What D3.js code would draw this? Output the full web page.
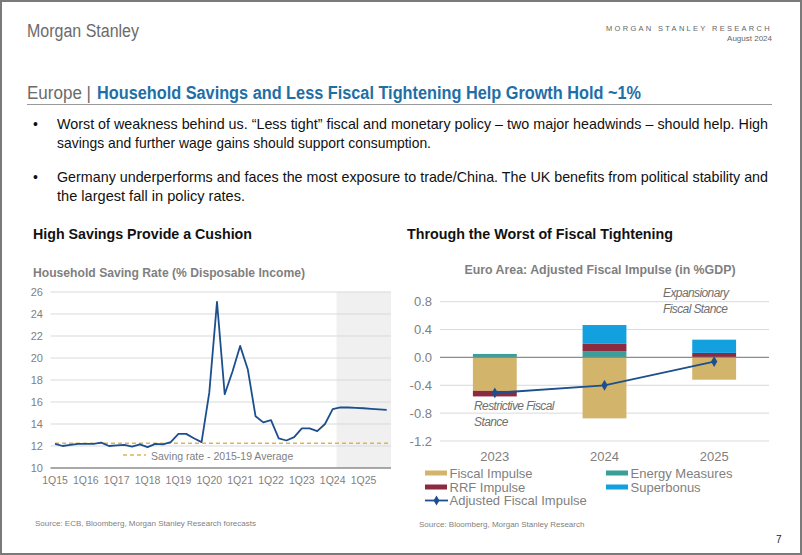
<!DOCTYPE html>
<html><head><meta charset="utf-8">
<script src="https://cdn.jsdelivr.net/npm/d3@7"></script>
<style>
html,body{margin:0;padding:0;background:#fff;}
svg{display:block;font-family:"Liberation Sans",Arial,sans-serif;}
</style></head>
<body><svg id="c" width="802" height="555"></svg>
<script>
// ---------- DATA ----------
const quarters = ["1Q15","2Q15","3Q15","4Q15","1Q16","2Q16","3Q16","4Q16","1Q17","2Q17","3Q17","4Q17",
 "1Q18","2Q18","3Q18","4Q18","1Q19","2Q19","3Q19","4Q19","1Q20","2Q20","3Q20","4Q20","1Q21","2Q21","3Q21","4Q21",
 "1Q22","2Q22","3Q22","4Q22","1Q23","2Q23","3Q23","4Q23","1Q24","2Q24","3Q24","4Q24","1Q25","2Q25","3Q25","4Q25"];
const savingRate = [12.2,12.0,12.1,12.2,12.2,12.2,12.3,12.0,12.05,12.1,11.95,12.15,
 11.9,12.2,12.15,12.35,13.1,13.1,12.7,12.35,16.85,25.1,16.7,18.75,21.1,18.95,14.7,14.15,
 14.35,12.7,12.5,12.8,13.6,13.6,13.35,14.0,15.35,15.52,15.5,15.47,15.43,15.38,15.33,15.28];
const savingAvg = 12.25;
const forecastStart = "2Q24";
const leftYTicks = [10,12,14,16,18,20,22,24,26];
const leftXTicks = ["1Q15","1Q16","1Q17","1Q18","1Q19","1Q20","1Q21","1Q22","1Q23","1Q24","1Q25"];

const years = ["2023","2024","2025"];
const fiscalImpulse = [-0.48,-0.875,-0.32];
const energyMeasures = [0.05,0.09,0.0];
const rrfImpulse = [-0.08,0.105,0.065];
const superbonus = [0.0,0.27,0.19];
const adjustedImpulse = [-0.51,-0.40,-0.06];
const rightYTicks = [-1.2,-0.8,-0.4,0.0,0.4,0.8];

const svg = d3.select("#c");
const grayTxt = "#7f7f7f";

// ---------- PAGE ----------
svg.append("rect").attr("x",1).attr("y",1).attr("width",800).attr("height",553)
  .attr("fill","none").attr("stroke","#7a7a7a").attr("stroke-width",2);
svg.append("text").attr("x",27).attr("y",37).attr("font-size",18).attr("fill","#6b6b6b")
  .attr("textLength",112).attr("lengthAdjust","spacingAndGlyphs").text("Morgan Stanley");
svg.append("text").attr("x",772).attr("y",31).attr("text-anchor","end").attr("font-size",7.5)
  .attr("fill","#666").attr("letter-spacing",2.3).text("MORGAN STANLEY RESEARCH");
svg.append("text").attr("x",772).attr("y",41).attr("text-anchor","end").attr("font-size",8)
  .attr("fill","#666").text("August 2024");

svg.append("text").attr("x",27).attr("y",99).attr("font-size",17.5).attr("fill","#6b6b6b")
  .attr("textLength",64).attr("lengthAdjust","spacingAndGlyphs").text("Europe |");
svg.append("text").attr("x",97).attr("y",99).attr("font-size",17.5).attr("fill","#1f6fa6").attr("font-weight","bold")
  .attr("textLength",544).attr("lengthAdjust","spacingAndGlyphs").text("Household Savings and Less Fiscal Tightening Help Growth Hold ~1%");
svg.append("line").attr("x1",27).attr("x2",772).attr("y1",104.5).attr("y2",104.5).attr("stroke","#9a9a9a").attr("stroke-width",1);

const bullets = [
  {y:129, t:"Worst of weakness behind us. \u201CLess tight\u201D fiscal and monetary policy \u2013 two major headwinds \u2013 should help. High", w:711},
  {y:148, t:"savings and further wage gains should support consumption.", w:374},
  {y:182, t:"Germany underperforms and faces the most exposure to trade/China. The UK benefits from political stability and", w:711},
  {y:201, t:"the largest fall in policy rates.", w:188}
];
bullets.forEach(b=>{
  svg.append("text").attr("x",57).attr("y",b.y).attr("font-size",15).attr("fill","#111")
    .attr("textLength",b.w).attr("lengthAdjust","spacingAndGlyphs").text(b.t);
});
[129,182].forEach(y=>svg.append("text").attr("x",33).attr("y",y).attr("font-size",14).attr("fill","#111").text("\u2022"));

svg.append("text").attr("x",33).attr("y",239).attr("font-size",14.5).attr("font-weight","bold").attr("fill","#111")
  .attr("textLength",219).attr("lengthAdjust","spacingAndGlyphs").text("High Savings Provide a Cushion");
svg.append("text").attr("x",407).attr("y",239).attr("font-size",14.5).attr("font-weight","bold").attr("fill","#111")
  .attr("textLength",266).attr("lengthAdjust","spacingAndGlyphs").text("Through the Worst of Fiscal Tightening");

// ---------- LEFT CHART ----------
const L = {x0:50.5, x1:391, yTop:292, yBot:468};
const xL = d3.scaleLinear().domain([0, quarters.length-1]).range([55, 386.7]);
const yL = d3.scaleLinear().domain([10,26]).range([L.yBot, L.yTop]);

svg.append("text").attr("x",33).attr("y",277).attr("font-size",12.5).attr("font-weight","bold").attr("fill",grayTxt)
  .attr("textLength",272).attr("lengthAdjust","spacingAndGlyphs").text("Household Saving Rate (% Disposable Income)");

const fi = quarters.indexOf(forecastStart);
svg.append("rect").attr("x",xL(fi-0.5)).attr("y",yL(26)).attr("width",L.x1-xL(fi-0.5)).attr("height",yL(10)-yL(26))
  .attr("fill","#f0f0f0");

const gL = svg.append("g");
gL.selectAll("line.grid").data(leftYTicks.filter(d=>d>10)).join("line")
  .attr("x1",L.x0).attr("x2",L.x1).attr("y1",d=>yL(d)).attr("y2",d=>yL(d))
  .attr("stroke","#d9d9d9").attr("stroke-width",1);
gL.selectAll("text.yt").data(leftYTicks).join("text")
  .attr("x",43).attr("y",d=>yL(d)+4).attr("text-anchor","end").attr("font-size",11).attr("fill",grayTxt).text(d=>d);
gL.append("line").attr("x1",L.x0).attr("x2",L.x1).attr("y1",L.yBot).attr("y2",L.yBot).attr("stroke","#8c8c8c").attr("stroke-width",1.3);
gL.selectAll("text.xt").data(leftXTicks).join("text")
  .attr("x",d=>xL(quarters.indexOf(d))).attr("y",484).attr("text-anchor","middle").attr("font-size",10.5).attr("fill",grayTxt).text(d=>d);

gL.append("line").attr("x1",xL(0)).attr("x2",L.x1-2).attr("y1",yL(savingAvg)).attr("y2",yL(savingAvg))
  .attr("stroke","#d9b45a").attr("stroke-width",1.4).attr("stroke-dasharray","4,3");
gL.append("path").datum(savingRate)
  .attr("d", d3.line().x((d,i)=>xL(i)).y(d=>yL(d)))
  .attr("fill","none").attr("stroke","#1d4f8e").attr("stroke-width",1.8).attr("stroke-linejoin","round");

gL.append("line").attr("x1",123).attr("x2",146).attr("y1",455).attr("y2",455)
  .attr("stroke","#d9b45a").attr("stroke-width",1.4).attr("stroke-dasharray","4,3");
gL.append("text").attr("x",151).attr("y",459.5).attr("font-size",10.5).attr("fill",grayTxt).text("Saving rate - 2015-19 Average");

svg.append("text").attr("x",35).attr("y",526).attr("font-size",8).attr("fill",grayTxt).text("Source: ECB, Bloomberg, Morgan Stanley Research forecasts");

// ---------- RIGHT CHART ----------
const R = {x0:440, x1:769};
const xR = d3.scaleBand().domain(years).range([R.x0,R.x1]).paddingInner(0.6).paddingOuter(0.3);
const yR = d3.scaleLinear().domain([-1.2,0.8]).range([441,301.7]);

svg.append("text").attr("x",600).attr("y",274).attr("text-anchor","middle").attr("font-size",12.5).attr("font-weight","bold").attr("fill",grayTxt)
  .attr("textLength",271).attr("lengthAdjust","spacingAndGlyphs").text("Euro Area: Adjusted Fiscal Impulse (in %GDP)");

const gR = svg.append("g");
gR.selectAll("line.grid").data(rightYTicks.filter(d=>d!==0)).join("line")
  .attr("x1",R.x0).attr("x2",R.x1).attr("y1",d=>yR(d)).attr("y2",d=>yR(d)).attr("stroke","#d9d9d9").attr("stroke-width",1);
gR.selectAll("text.yt").data(rightYTicks).join("text")
  .attr("x",432).attr("y",d=>yR(d)+4.5).attr("text-anchor","end").attr("font-size",13).attr("fill",grayTxt).text(d=>d.toFixed(1));

const keys = ["fiscal","energy","rrf","superbonus"];
const colors = {fiscal:"#d3b46b", energy:"#3a9f98", rrf:"#8c2a40", superbonus:"#13a0df"};
const names = {fiscal:"Fiscal Impulse", energy:"Energy Measures", rrf:"RRF Impulse", superbonus:"Superbonus"};
const table = years.map((y,i)=>({year:y, fiscal:fiscalImpulse[i], energy:energyMeasures[i], rrf:rrfImpulse[i], superbonus:superbonus[i]}));
const stacked = d3.stack().keys(keys).offset(d3.stackOffsetDiverging)(table);
gR.selectAll("g.s").data(stacked).join("g").attr("fill",d=>colors[d.key])
  .selectAll("rect").data(d=>d).join("rect")
  .attr("x",d=>xR(d.data.year)).attr("width",xR.bandwidth())
  .attr("y",d=>yR(Math.max(d[0],d[1]))).attr("height",d=>Math.abs(yR(d[0])-yR(d[1])));

gR.append("line").attr("x1",R.x0).attr("x2",R.x1).attr("y1",yR(0)).attr("y2",yR(0)).attr("stroke","#8c8c8c").attr("stroke-width",1.3);

const cx = y=>xR(y)+xR.bandwidth()/2;
gR.append("path").datum(adjustedImpulse)
  .attr("d", d3.line().x((d,i)=>cx(years[i])).y(d=>yR(d)))
  .attr("fill","none").attr("stroke","#1d4f8e").attr("stroke-width",1.8);
gR.selectAll("path.dm").data(adjustedImpulse).join("path")
  .attr("transform",(d,i)=>`translate(${cx(years[i])},${yR(d)})`)
  .attr("d", d3.symbol(d3.symbolDiamond, 34)).attr("fill","#1d4f8e");

gR.selectAll("text.xt").data(years).join("text")
  .attr("x",d=>cx(d)).attr("y",461).attr("text-anchor","middle").attr("font-size",13).attr("fill",grayTxt).text(d=>d);

const ann = (x,y,lines)=>{lines.forEach((t,i)=>svg.append("text").attr("x",x).attr("y",y+i*15.5).attr("font-size",12)
  .attr("font-style","italic").attr("fill","#6f6f6f").attr("letter-spacing",-0.6).text(t));};
ann(663,297,["Expansionary","Fiscal Stance"]);
ann(474,410,["Restrictive Fiscal","Stance"]);

// legend
const leg = [
  {k:"fiscal",x:425,y:473},{k:"energy",x:606,y:473},
  {k:"rrf",x:425,y:487},{k:"superbonus",x:606,y:487}
];
leg.forEach(l=>{
  svg.append("rect").attr("x",l.x).attr("y",l.y-2.5).attr("width",22).attr("height",5).attr("fill",colors[l.k]);
  svg.append("text").attr("x",l.x+24.5).attr("y",l.y+4.5).attr("font-size",13).attr("fill",grayTxt).text(names[l.k]);
});
svg.append("line").attr("x1",425).attr("x2",448).attr("y1",500.5).attr("y2",500.5).attr("stroke","#1d4f8e").attr("stroke-width",1.8);
svg.append("path").attr("transform","translate(436.5,500.5)").attr("d",d3.symbol(d3.symbolDiamond,30)).attr("fill","#1d4f8e");
svg.append("text").attr("x",449.5).attr("y",505).attr("font-size",13).attr("fill",grayTxt).text("Adjusted Fiscal Impulse");

svg.append("text").attr("x",419).attr("y",527).attr("font-size",8).attr("fill",grayTxt).text("Source: Bloomberg, Morgan Stanley Research");
svg.append("text").attr("x",776).attr("y",543).attr("font-size",10).attr("fill","#222").text("7");
</script></body></html>
